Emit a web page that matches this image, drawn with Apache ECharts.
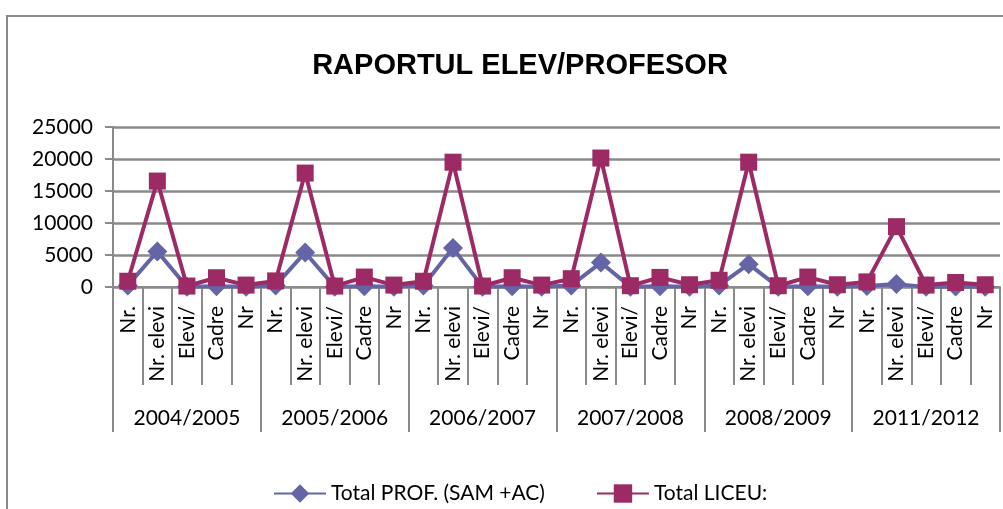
<!DOCTYPE html>
<html>
<head>
<meta charset="utf-8">
<script src="https://cdn.jsdelivr.net/npm/echarts@6/dist/echarts.min.js"></script>
<style>
  html, body { margin: 0; padding: 0; background: #fff; }
  #main { width: 1003px; height: 509px; }
</style>
</head>
<body>
<div id="main"></div>
<script>
// etichete din interiorul fiecarui an
const innerLabels = ['Nr.', 'Nr. elevi', 'Elevi/', 'Cadre', 'Nr'];
const years = ['2004/2005', '2005/2006', '2006/2007', '2007/2008', '2008/2009', '2011/2012'];
const yTicks = [0, 5000, 10000, 15000, 20000, 25000];

// valori
const totalProf = [
  250, 5550, 20, 100, 30,
  250, 5400, 20, 100, 30,
  250, 6080, 20, 100, 30,
  250, 3820, 20, 100, 30,
  250, 3570, 20, 100, 30,
  150, 450, 20, 80, 30
];
const totalLiceu = [
  900, 16550, 150, 1450, 300,
  950, 17800, 150, 1550, 300,
  900, 19500, 150, 1450, 300,
  1300, 20150, 200, 1500, 350,
  1050, 19500, 200, 1550, 350,
  800, 9430, 300, 700, 350
];

const categories = [];
years.forEach(() => innerLabels.forEach(l => categories.push(l)));

const gray = '#8a8a8a';
const font = 'Lato, "Open Sans", sans-serif';

const chart = echarts.init(document.getElementById('main'));
chart.setOption({
  animation: false,
  title: {
    text: 'RAPORTUL ELEV/PROFESOR',
    left: 515,
    textAlign: 'center',
    top: 46,
    textStyle: {
      fontFamily: '"Liberation Sans", Arial, sans-serif',
      fontWeight: 'bold',
      fontSize: 29,
      color: '#000'
    }
  },
  graphic: [{
    type: 'rect',
    shape: { x: 7, y: 16, width: 1100, height: 600 },
    style: { fill: 'none', stroke: gray, lineWidth: 2 },
    silent: true
  }],
  legend: {
    left: 268,
    top: 478,
    itemWidth: 52,
    itemHeight: 23,
    itemGap: 51,
    textStyle: { fontFamily: font, fontSize: 21, color: '#000' },
    data: ['Total PROF. (SAM +AC)', 'Total LICEU:']
  },
  grid: { left: 113, right: 3, top: 127, bottom: 222, containLabel: false },
  xAxis: [
    {
      type: 'category',
      data: categories,
      boundaryGap: true,
      axisLine: { show: true, lineStyle: { color: gray, width: 2 } },
      axisTick: { show: true, length: 98, interval: 0, alignWithLabel: false, lineStyle: { color: gray, width: 2 } },
      axisLabel: {
        interval: 0,
        rotate: 90,
        margin: 19,
        fontFamily: font,
        fontSize: 21,
        color: '#000'
      }
    },
    {
      type: 'category',
      data: years,
      position: 'bottom',
      boundaryGap: true,
      axisLine: { show: false },
      axisTick: { show: true, length: 145, interval: 0, alignWithLabel: false, lineStyle: { color: gray, width: 2 } },
      axisLabel: {
        interval: 0,
        margin: 121,
        fontFamily: font,
        fontSize: 21,
        color: '#000'
      }
    }
  ],
  yAxis: {
    type: 'value',
    min: yTicks[0],
    max: yTicks[yTicks.length - 1],
    interval: yTicks[1] - yTicks[0],
    axisLine: { show: true, lineStyle: { color: gray, width: 2 } },
    axisTick: { show: true, length: 8, lineStyle: { color: gray, width: 2 } },
    splitLine: { lineStyle: { color: gray, width: 2.5 } },
    axisLabel: {
      margin: 20,
      fontFamily: font,
      fontSize: 21,
      color: '#000',
      formatter: v => String(v)
    }
  },
  series: [
    {
      name: 'Total PROF. (SAM +AC)',
      type: 'line',
      xAxisIndex: 0,
      data: totalProf,
      symbol: 'diamond',
      symbolSize: 20,
      lineStyle: { color: '#6464a6', width: 4 },
      itemStyle: { color: '#6464a6' }
    },
    {
      name: 'Total LICEU:',
      type: 'line',
      xAxisIndex: 0,
      data: totalLiceu,
      symbol: 'rect',
      symbolSize: 17,
      lineStyle: { color: '#9c2a64', width: 4 },
      itemStyle: { color: '#9c2a64' }
    }
  ]
});
</script>
</body>
</html>
